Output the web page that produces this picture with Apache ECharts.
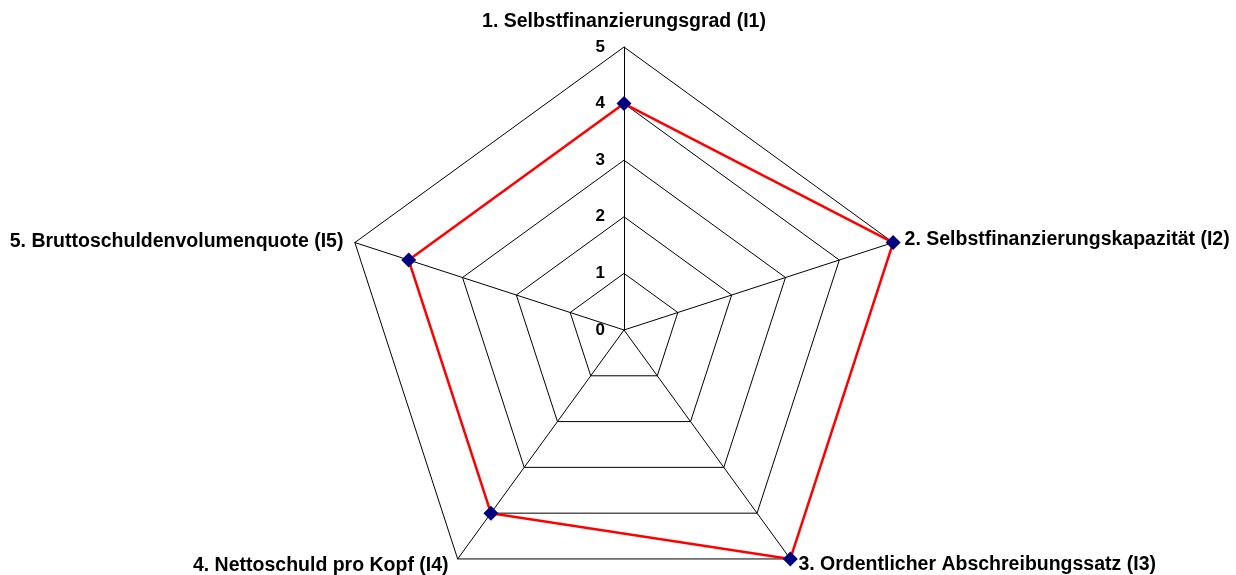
<!DOCTYPE html>
<html lang="de">
<head>
  <meta charset="UTF-8">
  <title>Kennzahlen</title>
  <script src="https://cdn.jsdelivr.net/npm/echarts@6/dist/echarts.min.js"></script>
</head>
<body style="margin:0;background:#fff;">
  <div id="main" style="width:1236px;height:575px;"></div>
  <script>
    var indicatorNames = [
      '1. Selbstfinanzierungsgrad (I1)',
      '2. Selbstfinanzierungskapazität (I2)',
      '3. Ordentlicher Abschreibungssatz (I3)',
      '4. Nettoschuld pro Kopf (I4)',
      '5. Bruttoschuldenvolumenquote (I5)'
    ];
    var values = [4, 5, 5, 4, 4];
    var tickLabels = ['0', '1', '2', '3', '4', '5'];
    var axisMax = 5;

    // echarts goes counter-clockwise, the original goes clockwise
    var order = [0, 4, 3, 2, 1];

    var font = '"Liberation Sans", Arial, sans-serif';
    var pads = {
      0: [0, 0, 3, 0],
      1: [2, 0, 0, 0],
      2: [0, 0, 8, 1],
      3: [0, 2, 6, 0],
      4: [6, 0, 0, 0]
    };
    var rich = {};
    indicatorNames.forEach(function (n, i) {
      rich['n' + i] = { fontSize: 19.5, fontWeight: 'bold', color: '#000', fontFamily: font, padding: pads[i] };
    });

    var indicators = order.map(function (i, k) {
      return {
        name: indicatorNames[i],
        min: 0,
        max: axisMax,
        axisLabel: { show: k === 0 }
      };
    });

    var myChart = echarts.init(document.getElementById('main'));
    myChart.setOption({
      backgroundColor: '#fff',
      animation: false,
      radar: {
        center: [624, 330],
        radius: 283,
        startAngle: 90,
        splitNumber: 5,
        shape: 'polygon',
        indicator: indicators,
        nameGap: 12,
        axisName: {
          formatter: function (name) {
            return '{n' + indicatorNames.indexOf(name) + '|' + name + '}';
          },
          rich: rich
        },
        axisLine: { show: true, lineStyle: { color: '#000', width: 1 } },
        axisTick: { show: false },
        axisLabel: {
          show: true,
          margin: 19,
          color: '#000',
          fontSize: 17,
          fontWeight: 'bold',
          fontFamily: font,
          formatter: function (v) { return tickLabels[Math.round(v)]; }
        },
        splitLine: { show: true, lineStyle: { color: '#000', width: 1 } },
        splitArea: { show: false }
      },
      series: [{
        type: 'radar',
        symbol: 'diamond',
        symbolSize: 15,
        itemStyle: { color: '#000080' },
        lineStyle: { color: '#ff0000', width: 2.5 },
        z: 3,
        data: [{ value: order.map(function (i) { return values[i]; }) }]
      }]
    });
  </script>
</body>
</html>
